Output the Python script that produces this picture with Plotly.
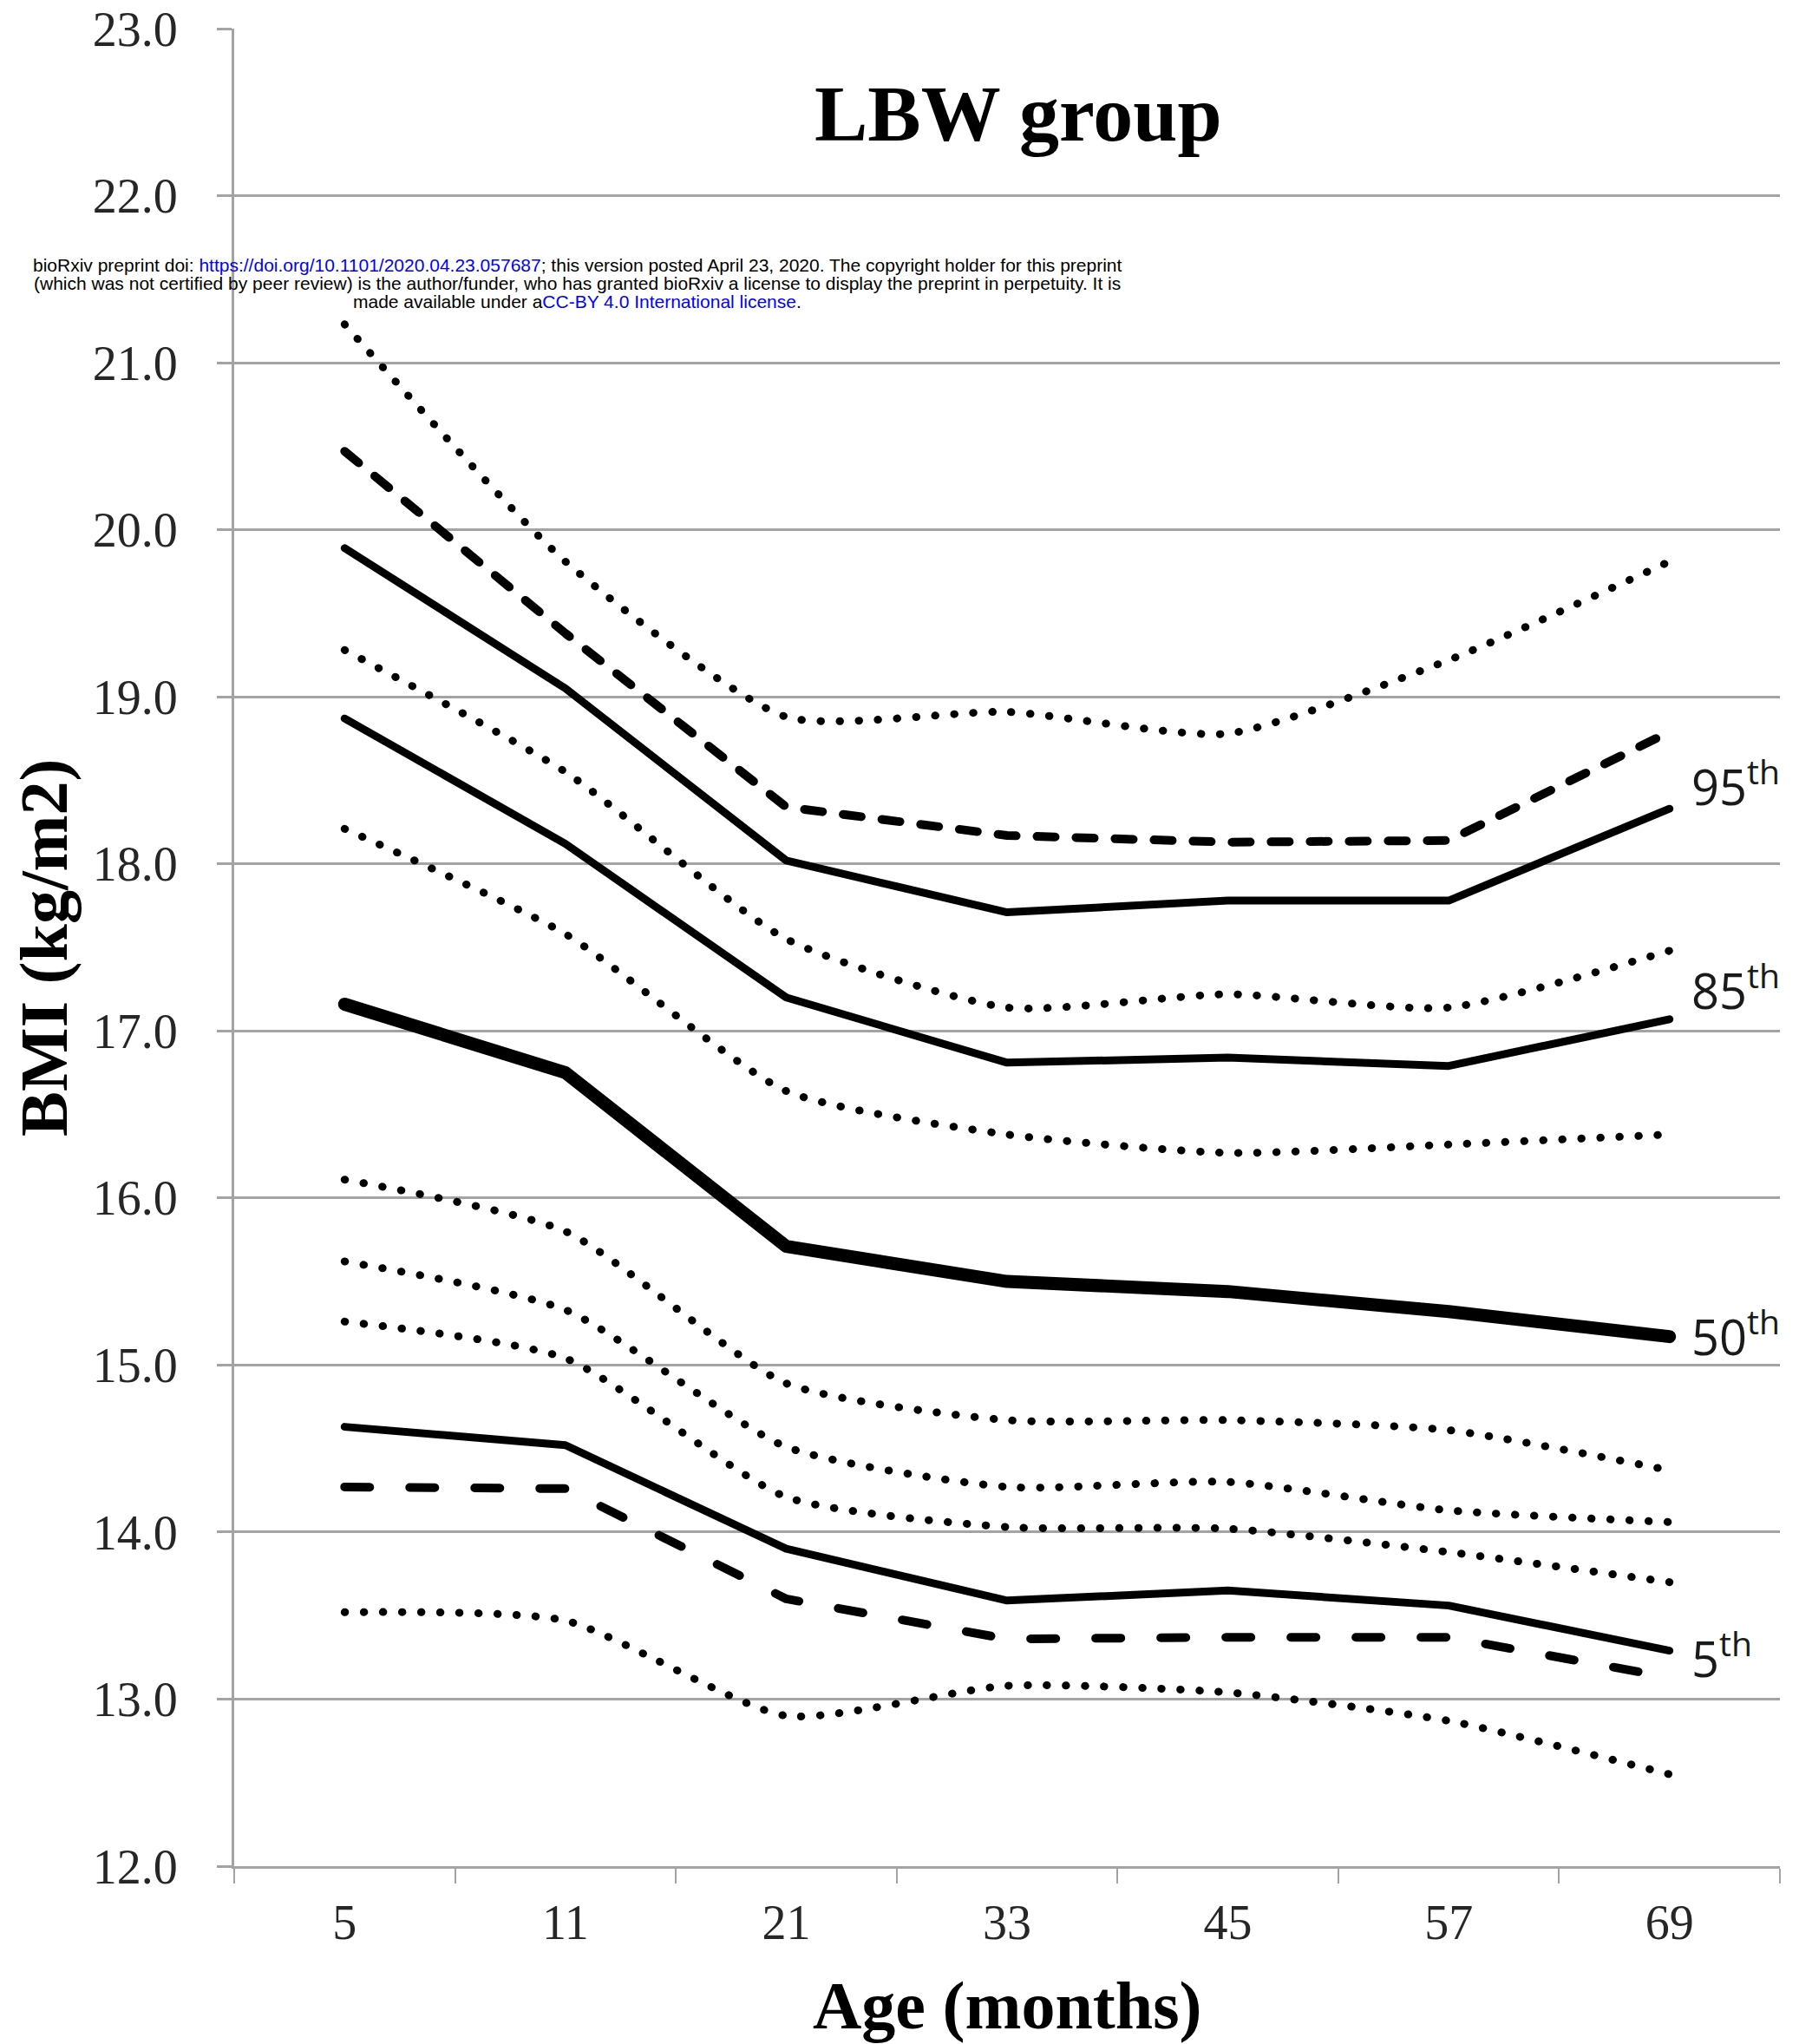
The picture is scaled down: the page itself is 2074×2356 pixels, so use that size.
import plotly.graph_objects as go

# Age categories (months) on the x axis
ages = ["5", "11", "21", "33", "45", "57", "69"]

# Sample percentile curves (solid lines)
p95 = [19.89, 19.05, 18.02, 17.71, 17.78, 17.78, 18.33]
p85 = [18.87, 18.12, 17.20, 16.81, 16.84, 16.79, 17.07]
p50 = [17.16, 16.75, 15.71, 15.50, 15.44, 15.32, 15.17]
p5 = [14.63, 14.52, 13.90, 13.59, 13.65, 13.56, 13.29]

# Reference curves (dashed)
ref_dash_hi = [20.47, 19.38, 18.34, 18.17, 18.13, 18.14, 18.79]
ref_dash_lo = [14.27, 14.26, 13.60, 13.36, 13.37, 13.37, 13.13]

# Reference curves (dotted), top to bottom
ref_dot_a = [21.23, 19.81, 18.88, 18.91, 18.78, 19.22, 19.81]
ref_dot_b = [19.28, 18.55, 17.55, 17.14, 17.22, 17.14, 17.48]
ref_dot_c = [18.21, 17.58, 16.64, 16.38, 16.27, 16.32, 16.38]
ref_dot_d = [16.11, 15.80, 14.89, 14.67, 14.67, 14.61, 14.37]
ref_dot_e = [15.62, 15.33, 14.51, 14.27, 14.30, 14.13, 14.06]
ref_dot_f = [15.26, 15.04, 14.21, 14.03, 14.02, 13.88, 13.70]
ref_dot_g = [13.52, 13.47, 12.90, 13.08, 13.04, 12.87, 12.55]

# Percentile labels at the right end
pct_labels = ["95", "85", "50", "5"]
pct_label_y = [18.48, 17.26, 15.19, 13.26]

y_ticks = [12.0, 13.0, 14.0, 15.0, 16.0, 17.0, 18.0, 19.0, 20.0, 21.0, 22.0, 23.0]

fig = go.Figure()

DOT = "0.5px,21.5px"
for ys in [ref_dot_a, ref_dot_b, ref_dot_c, ref_dot_d, ref_dot_e, ref_dot_f, ref_dot_g]:
    fig.add_trace(go.Scatter(x=ages, y=ys, mode="lines",
                             line=dict(color="black", width=9, dash=DOT,
                                       shape="spline", smoothing=0.6),
                             hoverinfo="skip"))

fig.add_trace(go.Scatter(x=ages, y=ref_dash_hi, mode="lines",
                         line=dict(color="black", width=10, dash="21px,24px"),
                         hoverinfo="skip"))
fig.add_trace(go.Scatter(x=ages, y=ref_dash_lo, mode="lines",
                         line=dict(color="black", width=10, dash="29px,46px"),
                         hoverinfo="skip"))

for ys in [p95, p85, p5]:
    fig.add_trace(go.Scatter(x=ages, y=ys, mode="lines",
                             line=dict(color="black", width=9),
                             hoverinfo="skip"))
fig.add_trace(go.Scatter(x=ages, y=p50, mode="lines",
                         line=dict(color="black", width=15),
                         hoverinfo="skip"))

GRID = "#a3a3a3"
serif = "Liberation Serif"

fig.update_layout(
    width=2074, height=2356,
    margin=dict(l=270, r=22, t=33, b=205, autoexpand=False),
    plot_bgcolor="white", paper_bgcolor="white",
    showlegend=False,
    xaxis=dict(type="category", categoryarray=ages, range=[-0.5, 6.5],
               automargin=False,
               showgrid=False, zeroline=False,
               showline=True, linecolor=GRID, linewidth=3,
               ticks="outside", tickson="boundaries", ticklen=17,
               tickcolor=GRID, tickwidth=2,
               tickfont=dict(family=serif, size=56, color="#262626"),
               ticklabelstandoff=14),
    yaxis=dict(range=[12, 23], tickvals=y_ticks, tickformat=".1f",
               automargin=False,
               showgrid=True, gridcolor=GRID, gridwidth=3, zeroline=False,
               showline=True, linecolor=GRID, linewidth=3,
               ticks="outside", ticklen=17, tickcolor=GRID, tickwidth=3,
               tickfont=dict(family=serif, size=56, color="#262626"),
               ticklabelstandoff=34),
)

annotations = [
    dict(text="<b>LBW group</b>", xref="paper", yref="paper",
         x=0.5073, y=0.9535, xanchor="center", yanchor="middle",
         showarrow=False, font=dict(family=serif, size=92, color="black")),
    dict(text="<b>BMI (kg/m2)</b>", xref="paper", yref="paper",
         x=-0.1235, y=0.5, xanchor="center", yanchor="middle", textangle=-90,
         showarrow=False, font=dict(family=serif, size=78, color="black")),
    dict(text="<b>Age (months)</b>", xref="paper", yref="paper",
         x=0.5, y=-0.076, xanchor="center", yanchor="middle",
         showarrow=False, font=dict(family=serif, size=78, color="black")),
]

blue = "<span style='color:#0000ff'>{}</span>"
notice = [
    "bioRxiv preprint doi: " + blue.format("https://doi.org/10.1101/2020.04.23.057687")
    + "; this version posted April 23, 2020. The copyright holder for this preprint",
    "(which was not certified by peer review) is the author/funder, who has granted bioRxiv a license to display the preprint in perpetuity. It is",
    "made available under a" + blue.format("CC-BY 4.0 International license") + ".",
]
for line, yp in zip(notice, [0.8712, 0.8612, 0.8513]):
    annotations.append(dict(text=line, xref="paper", yref="paper",
                            x=0.2222, y=yp, xanchor="center", yanchor="middle",
                            showarrow=False,
                            font=dict(family="Liberation Sans", size=21, color="black")))

for lab, yv in zip(pct_labels, pct_label_y):
    annotations.append(dict(text=lab + "<sup>th</sup>", xref="paper", yref="y",
                            x=0.9416, y=yv, xanchor="left", yanchor="middle",
                            showarrow=False,
                            font=dict(family="Open Sans", size=56, color="#1a1a1a")))

fig.update_layout(annotations=annotations)

post = """
var gd = document.getElementById('{plot_id}');
function roundCaps(){
  document.querySelectorAll('.scatterlayer .js-line').forEach(function(p){
    p.style.strokeLinecap = 'round';
    p.style.strokeLinejoin = 'round';
  });
}
roundCaps();
if (gd && gd.on) { gd.on('plotly_afterplot', roundCaps); }
"""

fig.write_html("out.html", post_script=post)
